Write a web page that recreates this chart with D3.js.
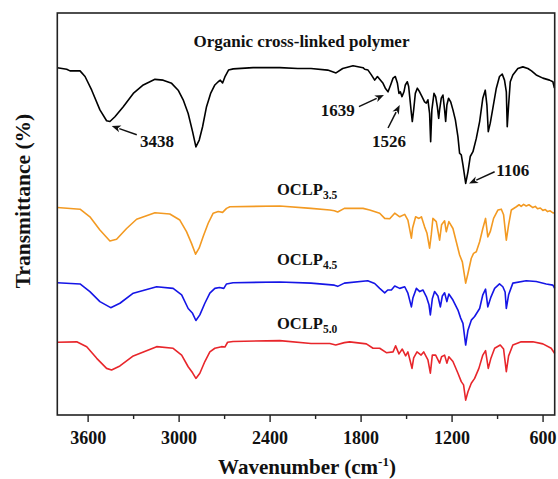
<!DOCTYPE html>
<html><head><meta charset="utf-8">
<script src="https://cdn.jsdelivr.net/npm/d3@7"></script>
<style>body{margin:0;background:#fff}</style>
</head><body>
<svg id="chart" width="558" height="479"></svg>
<script>
// ---- data (wavenumber cm-1, relative transmittance, offset per curve) ----
const polymerWn = [3800,3738,3716,3650,3617,3573,3519,3475,3453,3420,3365,3299,3233,3156,3102,3046,3003,2970,2937,2908,2886,2864,2842,2816,2789,2761,2739,2725,2710,2695,2671,2640,2509,2333,2214,2127,2017,1962,1918,1850,1784,1773,1751,1729,1707,1689,1674,1652,1637,1619,1602,1586,1571,1557,1547,1538,1527,1514,1505,1492,1483,1474,1465,1459,1450,1439,1426,1411,1395,1378,1367,1356,1345,1338,1330,1316,1305,1294,1285,1279,1268,1257,1246,1239,1231,1220,1206,1191,1175,1158,1147,1136,1125,1107,1092,1077,1059,1037,1015,994,978,967,958,945,928,905,884,866,851,839,833,824,813,796,763,730,697,673,642,598,554,532,522];
const polymerT = [86.4,86.0,85.6,85.6,84.2,80.8,75.9,73.2,73.0,74.2,76.7,80.0,82.1,83.5,83.3,82.5,80.8,78.4,75.0,70.5,66.7,68.4,71.7,76.7,80.0,82.1,82.9,83.3,82.6,84.1,85.8,86.1,86.4,86.4,86.2,86.2,85.8,85.1,86.2,86.9,86.4,86.0,85.8,84.6,83.3,84.2,83.5,82.5,81.3,80.4,82.1,83.8,84.2,82.5,80.0,80.4,79.2,80.4,82.1,82.9,81.7,78.4,75.0,73.0,75.9,80.0,81.3,80.4,79.2,77.9,77.6,78.4,75.0,68.0,75.9,80.0,79.2,76.7,73.8,75.9,78.8,79.6,75.9,73.0,77.1,78.8,77.9,75.9,73.4,69.2,65.1,64.7,62.2,57.6,60.5,64.3,65.5,68.8,73.0,78.8,80.8,77.1,70.5,72.6,76.3,81.3,84.2,84.8,83.3,80.4,71.7,77.1,82.9,84.6,86.2,86.6,86.2,85.6,84.6,83.8,83.3,82.9,81.3];

const oclp35Wn = [3800,3650,3585,3519,3453,3409,3343,3277,3156,3058,2992,2948,2915,2888,2865,2838,2805,2772,2739,2710,2684,2662,2333,2127,2003,1973,1951,1907,1784,1740,1674,1641,1608,1575,1542,1509,1488,1465,1457,1437,1415,1399,1378,1362,1345,1334,1323,1301,1279,1266,1246,1235,1218,1191,1169,1147,1129,1107,1092,1070,1055,1037,1015,994,976,961,945,923,894,872,857,839,824,806,773,755,741,725,708,690,664,648,633,615,598,582,567,550,532,520];
const oclp35T = [51.6,51.2,49.3,46.0,43.3,43.7,46.4,48.7,50.3,50.0,48.5,45.6,42.7,40.0,41.5,44.4,47.7,50.2,50.6,50.4,51.4,51.8,52.0,51.4,51.0,50.8,50.5,51.4,51.4,51.0,50.2,48.9,48.8,50.2,49.3,49.9,48.5,44.0,46.5,49.3,48.9,49.3,46.8,45.2,41.5,44.8,48.9,48.1,43.5,47.3,48.3,45.6,48.1,46.4,43.1,39.8,38.1,32.8,35.2,39.0,40.2,40.6,43.1,46.4,48.9,44.3,45.6,48.9,51.0,51.2,49.8,43.5,47.3,51.0,51.8,52.3,51.9,52.4,52.0,52.3,51.6,51.9,51.3,51.5,50.9,51.1,50.6,50.8,50.3,50.2];

const oclp45Wn = [3800,3650,3585,3519,3448,3387,3299,3145,3036,2980,2937,2908,2886,2860,2827,2794,2761,2731,2702,2684,2641,2333,2127,1973,1951,1907,1753,1707,1674,1641,1621,1597,1575,1542,1509,1488,1465,1455,1432,1410,1389,1366,1349,1340,1327,1312,1290,1274,1261,1246,1231,1218,1191,1158,1140,1125,1107,1092,1070,1048,1015,994,976,961,940,916,884,862,847,839,824,796,708,642,576,532,520];
const oclp45T = [32.9,32.6,30.7,28.2,26.7,27.8,30.3,31.9,31.5,29.9,26.5,25.3,23.5,24.9,27.8,30.3,31.5,31.7,31.5,32.6,32.9,33.1,32.8,32.3,32.0,32.8,33.4,32.7,31.5,30.4,31.1,31.1,32.1,31.5,31.9,30.3,26.9,29.1,31.5,30.7,31.1,29.4,27.4,24.9,28.9,30.7,29.6,26.9,29.6,30.4,28.2,30.1,28.6,26.1,24.1,22.8,17.4,21.1,23.6,24.5,26.5,29.9,31.3,26.9,29.4,31.5,32.6,31.9,30.6,26.5,29.9,32.8,33.4,33.2,32.6,32.3,31.5];

const oclp50Wn = [3800,3672,3606,3540,3475,3442,3387,3299,3145,3036,2980,2937,2908,2886,2860,2827,2794,2761,2717,2695,2677,2641,2333,2127,2003,1964,1907,1872,1762,1718,1674,1630,1586,1569,1547,1525,1503,1488,1472,1461,1450,1428,1401,1384,1356,1340,1327,1305,1279,1266,1246,1231,1218,1191,1158,1136,1121,1107,1092,1070,1048,1020,994,976,958,940,916,879,857,839,824,796,741,664,598,543,520];
const oclp50T = [18.1,18.2,17.0,14.1,11.6,11.2,12.2,14.7,17.0,16.6,14.9,12.0,10.5,9.1,10.4,13.3,15.7,16.6,17.0,16.9,18.1,18.3,18.5,17.8,17.8,17.4,18.0,18.2,17.7,16.6,16.6,15.5,15.7,17.2,15.2,16.4,14.7,15.7,13.3,11.6,14.2,15.7,14.9,15.7,13.7,10.4,14.9,14.9,12.9,14.5,14.9,12.9,14.5,13.3,10.4,8.3,7.5,3.7,5.8,7.9,9.1,11.6,14.9,16.0,11.6,14.2,16.6,17.4,16.4,10.8,14.7,17.4,18.2,18.2,17.7,16.6,15.3];

const seriesNames = ["Organic cross-linked polymer", "OCLP", "OCLP", "OCLP"];
const seriesSubs = ["", "3.5", "4.5", "5.0"];
const seriesColors = ["#000000", "#F39A22", "#1515E6", "#E8262B"];
const majorTicks = [3600, 3000, 2400, 1800, 1200, 600];
const minorTicks = [3300, 2700, 2100, 1500, 900];
const peakLabels = ["3438", "1639", "1526", "1106"];

// ---- layout ----
const svg = d3.select("#chart");
const padL = 57.3, padR = 554.7, padT = 13, padB = 415;
const font = "'Liberation Serif','Times New Roman',serif";

const x = d3.scaleLinear().domain([3800, 520]).range([padL, padR]);
const y = d3.scaleLinear().domain([0, 100]).range([padB, padT]);

const series = [
  {wn: polymerWn, t: polymerT},
  {wn: oclp35Wn, t: oclp35T},
  {wn: oclp45Wn, t: oclp45T},
  {wn: oclp50Wn, t: oclp50T}
];

const line = d3.line().x(d => x(d[0])).y(d => y(d[1])).curve(d3.curveLinear);

series.forEach((s, i) => {
  svg.append("path")
    .datum(s.wn.map((w, k) => [w, s.t[k]]))
    .attr("fill", "none")
    .attr("stroke", seriesColors[i])
    .attr("stroke-width", 1.6)
    .attr("stroke-linejoin", "round")
    .attr("d", line);
});

// frame
svg.append("rect")
  .attr("x", padL).attr("y", padT)
  .attr("width", padR - padL).attr("height", padB - padT)
  .attr("fill", "none").attr("stroke", "#222").attr("stroke-width", 1.6);

// bottom axis
const axMaj = d3.axisBottom(x).tickValues(majorTicks).tickSize(7).tickPadding(9).tickFormat(d3.format("d"));
const gMaj = svg.append("g").attr("transform", `translate(0,${padB})`).call(axMaj);
gMaj.select(".domain").remove();
gMaj.selectAll("line").attr("stroke", "#222").attr("stroke-width", 1.4);
gMaj.selectAll("text").attr("font-family", font).attr("font-weight", "bold").attr("font-size", 18).attr("fill", "#111");

const axMin = d3.axisBottom(x).tickValues(minorTicks).tickSize(4).tickFormat("");
const gMin = svg.append("g").attr("transform", `translate(0,${padB})`).call(axMin);
gMin.select(".domain").remove();
gMin.selectAll("line").attr("stroke", "#222").attr("stroke-width", 1.4);

// axis titles
const xt = svg.append("text")
  .attr("x", (padL + padR) / 2 + 1).attr("y", 474)
  .attr("text-anchor", "middle")
  .attr("font-family", font).attr("font-weight", "bold").attr("font-size", 21).attr("fill", "#111");
xt.append("tspan").text("Wavenumber (cm");
xt.append("tspan").text("-1").attr("font-size", 13).attr("dy", -8);
xt.append("tspan").text(")").attr("dy", 8);

svg.append("text")
  .attr("transform", "translate(30,201) rotate(-90)")
  .attr("text-anchor", "middle")
  .attr("font-family", font).attr("font-weight", "bold").attr("font-size", 21.5).attr("fill", "#111")
  .text("Transmittance (%)");

// series labels
const labelPos = [[2190, 91.5, "middle"], [2351, 54.7, "start"], [2351, 37.3, "start"], [2351, 21.4, "start"]];
labelPos.forEach((p, i) => {
  const t = svg.append("text")
    .attr("x", x(p[0])).attr("y", y(p[1]))
    .attr("text-anchor", p[2])
    .attr("font-family", font).attr("font-weight", "bold").attr("font-size", i === 0 ? 17 : 16.5).attr("fill", "#111");
  t.append("tspan").text(seriesNames[i]);
  if (seriesSubs[i]) t.append("tspan").text(seriesSubs[i]).attr("font-size", 11.5).attr("dy", 4);
});

// peak annotations: head, tail, text position in data units
const ann = [
  {head: [3441, 71.9], tail: [3276, 69.7], text: [3254, 66.7], anchor: "start"},
  {head: [1646, 79.6], tail: [1811, 76.7], text: [1839, 74.3], anchor: "end"},
  {head: [1542, 77.1], tail: [1619, 71.4], text: [1613, 66.7], anchor: "middle"},
  {head: [1085, 57.6], tail: [916, 60.5], text: [905, 59.5], anchor: "start"}
];
ann.forEach((a, i) => {
  const hx = x(a.head[0]), hy = y(a.head[1]);
  const tx = x(a.tail[0]), ty = y(a.tail[1]);
  const dx = hx - tx, dy = hy - ty, len = Math.hypot(dx, dy);
  const ux = dx / len, uy = dy / len;
  const L = 9, hw = 3.6;
  const bx = hx - ux * L, by = hy - uy * L;
  svg.append("line").attr("x1", tx).attr("y1", ty).attr("x2", bx + ux * 1).attr("y2", by + uy * 1)
    .attr("stroke", "#111").attr("stroke-width", 1.5);
  svg.append("path")
    .attr("d", `M${hx},${hy}L${bx - uy * hw},${by + ux * hw}L${bx + ux * 2.5},${by + uy * 2.5}L${bx + uy * hw},${by - ux * hw}Z`)
    .attr("fill", "#111");
  svg.append("text")
    .attr("x", x(a.text[0])).attr("y", y(a.text[1]))
    .attr("text-anchor", a.anchor)
    .attr("font-family", font).attr("font-weight", "bold").attr("font-size", 17).attr("fill", "#111")
    .text(peakLabels[i]);
});
</script>
</body></html>
